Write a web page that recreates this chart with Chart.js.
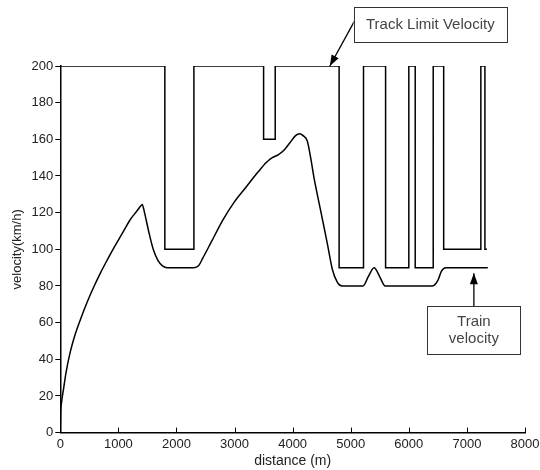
<!DOCTYPE html>
<html>
<head>
<meta charset="utf-8">
<script src="https://cdn.jsdelivr.net/npm/chart.js@4/dist/chart.umd.min.js"></script>
<style>
  html, body { margin: 0; padding: 0; background: #fff; }
  #wrap { width: 540px; height: 470px; }
</style>
</head>
<body>
<div id="wrap"><canvas id="chart" width="540" height="470"></canvas></div>
<script>
// Track limit velocity (step profile)
const trackDistance = [0, 1800, 1800, 2300, 2300, 3500, 3500, 3700, 3700, 4800, 4800, 5220, 5220, 5600, 5600,
    6000, 6000, 6110, 6110, 6420, 6420, 6600, 6600, 7240, 7240, 7310, 7310, 7345];
const trackLimit = [200, 200, 100, 100, 200, 200, 160, 160, 200, 200, 90, 90, 200, 200, 90,
    90, 200, 200, 90, 90, 200, 200, 100, 100, 200, 200, 100, 100];

// Train velocity
const trainDistance = [0, 5, 20, 57, 100, 172, 250, 350, 460, 570, 690, 805, 891, 1000, 1092, 1200, 1322, 1380, 1410,
    1450, 1520, 1600, 1680, 1760, 1840, 2300, 2380, 2450, 2600, 2800, 3000, 3200, 3400, 3550, 3650, 3750, 3850, 3950,
    4050, 4120, 4180, 4253, 4310, 4368, 4483, 4598, 4684, 4770, 4850, 5212, 5300, 5402, 5500, 5592, 6408, 6500, 6560,
    6638, 7360];
const trainVelocity = [0, 10, 16, 24, 33, 44, 53, 62, 71, 79, 87, 94, 99, 105, 110, 116, 121, 123.5, 124.5,
    120, 110, 100, 94, 91, 90, 90, 91, 95, 104, 116, 126, 134, 142, 147.5, 150, 151.5, 154, 158,
    162, 163, 162, 159, 150, 139, 121, 103, 89, 82, 80, 80, 85, 90, 85, 80, 80, 83, 88,
    90, 90];

const xTicks = [0, 1000, 2000, 3000, 4000, 5000, 6000, 7000, 8000];
const yTicks = [0, 20, 40, 60, 80, 100, 120, 140, 160, 180, 200];

const FONT = '"Liberation Sans", Arial, sans-serif';

// boxes and arrows, anchored in data units
const notes = [
    { lines: ['Track Limit Velocity'], box: [5050, 7690, 232, 213], from: [5090, 226], to: [4640, 200] },
    { lines: ['Train', 'velocity'], box: [6320, 7920, 69, 43], from: [7120, 69], to: [7120, 87] }
];

const notesPlugin = {
    id: 'notes',
    afterDraw(chart) {
        const ctx = chart.ctx;
        const xs = chart.scales.x, ys = chart.scales.y;
        ctx.save();

        // inward x tick marks
        ctx.strokeStyle = '#000';
        ctx.lineWidth = 1;
        xTicks.forEach(t => {
            const px = Math.round(xs.getPixelForValue(t)) + 0.5;
            ctx.beginPath();
            ctx.moveTo(px, ys.bottom);
            ctx.lineTo(px, ys.bottom - 5);
            ctx.stroke();
        });

        notes.forEach(n => {
            const x1 = xs.getPixelForValue(n.box[0]), x2 = xs.getPixelForValue(n.box[1]);
            const y1 = ys.getPixelForValue(n.box[2]), y2 = ys.getPixelForValue(n.box[3]);
            const fx = xs.getPixelForValue(n.from[0]), fy = ys.getPixelForValue(n.from[1]);
            const tx = xs.getPixelForValue(n.to[0]), ty = ys.getPixelForValue(n.to[1]);

            // arrow shaft
            ctx.strokeStyle = '#000';
            ctx.lineWidth = 1.3;
            ctx.beginPath();
            ctx.moveTo(fx, fy);
            ctx.lineTo(tx, ty);
            ctx.stroke();
            // arrow head
            const ang = Math.atan2(ty - fy, tx - fx);
            const len = 11, half = 4;
            ctx.fillStyle = '#000';
            ctx.beginPath();
            ctx.moveTo(tx, ty);
            ctx.lineTo(tx - len * Math.cos(ang) + half * Math.sin(ang), ty - len * Math.sin(ang) - half * Math.cos(ang));
            ctx.lineTo(tx - len * Math.cos(ang) - half * Math.sin(ang), ty - len * Math.sin(ang) + half * Math.cos(ang));
            ctx.closePath();
            ctx.fill();

            // box
            ctx.fillStyle = '#fff';
            ctx.fillRect(x1, y1, x2 - x1, y2 - y1);
            ctx.strokeStyle = '#333';
            ctx.lineWidth = 1;
            ctx.strokeRect(Math.round(x1) + 0.5, Math.round(y1) + 0.5, Math.round(x2 - x1), Math.round(y2 - y1));

            // text
            ctx.fillStyle = '#444';
            ctx.font = '15px ' + FONT;
            ctx.textAlign = 'center';
            ctx.textBaseline = 'middle';
            const cx = (x1 + x2) / 2, cy = (y1 + y2) / 2;
            const lh = 17;
            n.lines.forEach((s, i) => {
                ctx.fillText(s, cx, cy + (i - (n.lines.length - 1) / 2) * lh);
            });
        });
        ctx.restore();
    }
};

const ctx = document.getElementById('chart').getContext('2d');
new Chart(ctx, {
    type: 'line',
    data: {
        datasets: [
            {
                label: 'Track Limit Velocity',
                data: trackDistance.map((d, i) => ({ x: d, y: trackLimit[i] })),
                borderColor: '#000',
                borderWidth: 1.5,
                pointRadius: 0,
                tension: 0,
                fill: false
            },
            {
                label: 'Train velocity',
                data: trainDistance.map((d, i) => ({ x: d, y: trainVelocity[i] })),
                borderColor: '#000',
                borderWidth: 1.5,
                pointRadius: 0,
                cubicInterpolationMode: 'monotone',
                fill: false
            }
        ]
    },
    options: {
        responsive: false,
        animation: false,
        layout: { padding: { top: 66, right: 15, left: 10, bottom: 0 } },
        plugins: {
            legend: { display: false },
            tooltip: { enabled: false }
        },
        scales: {
            x: {
                type: 'linear',
                min: 0,
                max: 8000,
                afterBuildTicks: scale => { scale.ticks = xTicks.map(v => ({ value: v })); },
                afterFit: scale => { scale.paddingRight = 0; },
                grid: { display: false, drawTicks: false },
                border: { display: true, color: '#000', width: 1.5 },
                ticks: { color: '#222', font: { family: FONT, size: 13 }, padding: 4, maxRotation: 0,
                    callback: v => String(v) },
                title: { display: true, text: 'distance (m)', color: '#222', font: { family: FONT, size: 14 }, padding: { top: -3, bottom: 0 } }
            },
            y: {
                type: 'linear',
                min: 0,
                max: 200,
                afterBuildTicks: scale => { scale.ticks = yTicks.map(v => ({ value: v })); },
                grid: { drawOnChartArea: false, drawTicks: true, tickLength: 5, color: '#000' },
                border: { display: true, color: '#000', width: 1.5 },
                ticks: { color: '#222', font: { family: FONT, size: 13 }, padding: 2 },
                title: { display: true, text: 'velocity(km/h)', color: '#222', font: { family: FONT, size: 13 }, padding: { top: 0, bottom: 4 } }
            }
        }
    },
    plugins: [notesPlugin]
});
</script>
</body>
</html>
